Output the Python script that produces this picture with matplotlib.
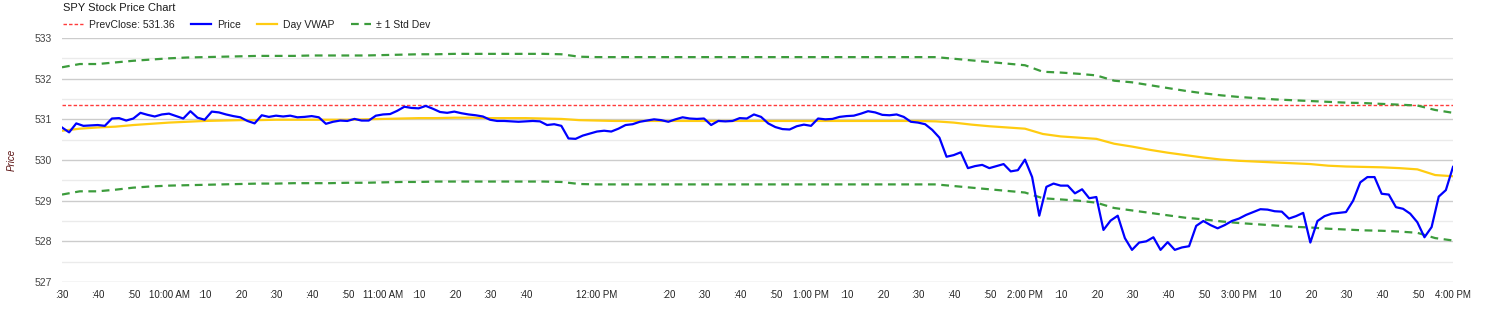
import numpy as np
import matplotlib
matplotlib.use("Agg")
import matplotlib.pyplot as plt
from matplotlib.lines import Line2D
from matplotlib import font_manager

# ---------------- data ----------------
prev_close = 531.36

# price every 2 minutes from 9:30 (minute 0) to 16:00 (minute 390)
price_step_min = 2
price = [
    530.80, 530.68, 530.90, 530.84, 530.85, 530.86, 530.84, 531.02, 531.03, 530.97,
    531.02, 531.16, 531.11, 531.07, 531.12, 531.14, 531.08, 531.02, 531.20, 531.04,
    530.99, 531.19, 531.17, 531.12, 531.08, 531.05, 530.96, 530.90, 531.10, 531.06,
    531.09, 531.07, 531.09, 531.05, 531.06, 531.08, 531.05, 530.89, 530.94, 530.97,
    530.96, 531.01, 530.97, 530.97, 531.09, 531.12, 531.13, 531.21, 531.31, 531.28,
    531.27, 531.33, 531.26, 531.18, 531.16, 531.19, 531.15, 531.12, 531.10, 531.07,
    530.99, 530.96, 530.96, 530.95, 530.94, 530.95, 530.96, 530.95, 530.86, 530.88,
    530.84, 530.53, 530.52, 530.60, 530.65, 530.70, 530.72, 530.70, 530.77, 530.86,
    530.88, 530.94, 530.97, 531.00, 530.98, 530.94, 531.00, 531.05, 531.02, 531.01,
    531.02, 530.86, 530.96, 530.95, 530.96, 531.03, 531.02, 531.12, 531.06, 530.90,
    530.81, 530.76, 530.75, 530.83, 530.87, 530.84, 531.02, 531.00, 531.01, 531.06,
    531.08, 531.09, 531.14, 531.20, 531.17, 531.11, 531.10, 531.12, 531.06, 530.94,
    530.92, 530.88, 530.74, 530.55, 530.08, 530.12, 530.19, 529.80, 529.85, 529.88,
    529.80, 529.85, 529.90, 529.72, 529.75, 530.01, 529.58, 528.63, 529.34, 529.42,
    529.37, 529.37, 529.18, 529.28, 529.06, 529.09, 528.28, 528.51, 528.63, 528.08,
    527.79, 527.97, 528.00, 528.10, 527.79, 527.98, 527.79, 527.85, 527.88, 528.38,
    528.50, 528.40, 528.32, 528.40, 528.50, 528.56, 528.65, 528.72, 528.79, 528.78,
    528.74, 528.73, 528.56, 528.62, 528.70, 527.97, 528.50, 528.62, 528.68, 528.70,
    528.72, 529.00, 529.45, 529.58, 529.58, 529.17, 529.15, 528.84, 528.80, 528.68,
    528.47, 528.10, 528.35, 529.10, 529.26, 529.83,
]

# VWAP and +/- 1 std dev bands every 5 minutes
band_step_min = 5
vwap = [
    530.72, 530.77, 530.80, 530.82, 530.86, 530.89, 530.92, 530.94, 530.96, 530.97,
    530.98, 530.98, 530.99, 530.99, 530.99, 530.99, 530.99, 531.00, 531.01, 531.02,
    531.03, 531.03, 531.04, 531.04, 531.03, 531.03, 531.03, 531.02, 531.01, 530.98,
    530.97, 530.96, 530.96, 530.96, 530.96, 530.96, 530.96, 530.96, 530.96, 530.96,
    530.96, 530.96, 530.96, 530.96, 530.96, 530.96, 530.96, 530.96, 530.96, 530.95,
    530.92, 530.87, 530.83, 530.80, 530.77, 530.64, 530.58, 530.55, 530.52, 530.40,
    530.33, 530.25, 530.18, 530.12, 530.06, 530.01, 529.98, 529.96, 529.94, 529.92,
    529.90, 529.86, 529.84, 529.83, 529.82, 529.80, 529.77, 529.63, 529.60,
]
upper_band = [
    532.28, 532.36, 532.36, 532.40, 532.44, 532.47, 532.50, 532.52, 532.53, 532.54,
    532.55, 532.56, 532.56, 532.56, 532.57, 532.57, 532.57, 532.57, 532.58, 532.59,
    532.60, 532.60, 532.61, 532.61, 532.61, 532.61, 532.61, 532.61, 532.60, 532.54,
    532.53, 532.53, 532.53, 532.53, 532.53, 532.53, 532.53, 532.53, 532.53, 532.53,
    532.53, 532.53, 532.53, 532.53, 532.53, 532.53, 532.53, 532.53, 532.53, 532.53,
    532.49, 532.45, 532.41, 532.37, 532.33, 532.17, 532.15, 532.12, 532.08, 531.95,
    531.91, 531.84, 531.77, 531.70, 531.64, 531.59, 531.55, 531.52, 531.49, 531.47,
    531.45, 531.43, 531.41, 531.40, 531.38, 531.36, 531.34, 531.23, 531.16,
]
lower_band = [
    529.15, 529.23, 529.23, 529.27, 529.32, 529.35, 529.37, 529.38, 529.39, 529.40,
    529.41, 529.42, 529.42, 529.43, 529.43, 529.43, 529.44, 529.44, 529.45, 529.46,
    529.46, 529.47, 529.47, 529.47, 529.47, 529.47, 529.47, 529.47, 529.46, 529.41,
    529.40, 529.40, 529.40, 529.40, 529.40, 529.40, 529.40, 529.40, 529.40, 529.40,
    529.40, 529.40, 529.40, 529.40, 529.40, 529.40, 529.40, 529.40, 529.40, 529.40,
    529.36, 529.32, 529.28, 529.24, 529.20, 529.06, 529.03, 529.00, 528.95, 528.82,
    528.76, 528.70, 528.64, 528.58, 528.54, 528.49, 528.45, 528.42, 528.39, 528.36,
    528.34, 528.31, 528.29, 528.27, 528.26, 528.24, 528.21, 528.08, 528.02,
]

tick_times = ["9:30", "9:40", "9:50", "10:00", "10:10", "10:20", "10:30", "10:40",
              "10:50", "11:00", "11:10", "11:20", "11:30", "11:40", "12:00",
              "12:20", "12:30", "12:40", "12:50", "13:00", "13:10", "13:20",
              "13:30", "13:40", "13:50", "14:00", "14:10", "14:20", "14:30",
              "14:40", "14:50", "15:00", "15:10", "15:20", "15:30", "15:40",
              "15:50", "16:00"]
tick_labels = [":30", ":40", ":50", "10:00 AM", ":10", ":20", ":30", ":40",
               ":50", "11:00 AM", ":10", ":20", ":30", ":40", "12:00 PM",
               ":20", ":30", ":40", ":50", "1:00 PM", ":10", ":20",
               ":30", ":40", ":50", "2:00 PM", ":10", ":20", ":30",
               ":40", ":50", "3:00 PM", ":10", ":20", ":30", ":40",
               ":50", "4:00 PM"]

# ---------------- plotting ----------------
def mins_since_open(t):
    h, m = map(int, t.split(":"))
    return (h * 60 + m) - (9 * 60 + 30)

x_price = np.arange(len(price)) * price_step_min
x_band = np.arange(len(vwap)) * band_step_min

names = {f.name for f in font_manager.fontManager.ttflist}
base_font = "Liberation Sans" if "Liberation Sans" in names else "DejaVu Sans"
narrow_font = "Liberation Sans Narrow" if "Liberation Sans Narrow" in names else base_font
plt.rcParams["font.family"] = [base_font, "DejaVu Sans"]

fig = plt.figure(figsize=(14.93, 3.10), dpi=100)
ax = fig.add_axes([62 / 1493, 1 - 282 / 310, (1453 - 62) / 1493, (282 - 38) / 310])

ax.set_xlim(0, 390)
ax.set_ylim(527, 533)

ax.set_yticks(np.arange(527, 534, 1))
ax.set_yticks(np.arange(527.5, 533, 1), minor=True)
ax.grid(True, which="major", axis="y", color="#cccccc", lw=1.0)
ax.grid(True, which="minor", axis="y", color="#ebebeb", lw=1.0)
ax.set_axisbelow(True)
for s in ax.spines.values():
    s.set_visible(False)
ax.tick_params(axis="both", which="both", length=0)
ax.tick_params(axis="y", labelsize=7.5, labelcolor="#444444", pad=7)

xt_size = 7.5 if narrow_font != base_font else 7
ax.set_xticks([mins_since_open(t) for t in tick_times])
ax.set_xticklabels(tick_labels, fontsize=xt_size, color="#222222",
                   family=[narrow_font, "DejaVu Sans"])
ax.tick_params(axis="x", pad=6)

ax.axhline(prev_close, color="#ff3b3b", lw=1.0, ls=(0, (2.5, 1.5)), zorder=2)
ax.plot(x_band, upper_band, color="#3c9c3c", lw=1.6, ls=(0, (3.5, 2.5)), zorder=3)
ax.plot(x_band, lower_band, color="#3c9c3c", lw=1.6, ls=(0, (3.5, 2.5)), zorder=3)
ax.plot(x_band, vwap, color="#ffcc11", lw=1.6, zorder=4)
ax.plot(x_price, price, color="#0000ff", lw=1.6, zorder=5)

ax.set_ylabel("Price", fontsize=7, style="italic", color="#5a1010")
ax.yaxis.set_label_coords(-0.0325, 0.5)

fig.text(63 / 1493, 1 - 8 / 310, "SPY Stock Price Chart", fontsize=8, color="#1a1a1a",
         va="center", ha="left")

handles = [
    Line2D([], [], color="#ff3b3b", lw=1.0, ls=(0, (2.5, 1.5))),
    Line2D([], [], color="#0000ff", lw=1.6),
    Line2D([], [], color="#ffcc11", lw=1.6),
    Line2D([], [], color="#3c9c3c", lw=1.6, ls=(0, (3.5, 2.5))),
]
labels = [f"PrevClose: {prev_close:.2f}", "Price", "Day VWAP", "\u00b1 1 Std Dev"]
fig.legend(handles, labels, loc="center left", bbox_to_anchor=(54 / 1493, 1 - 25 / 310),
           ncol=4, frameon=False, fontsize=7.5, handlelength=1.9, handletextpad=0.55,
           columnspacing=1.6, labelcolor="#222222")

fig.savefig("out.png", dpi=100)
